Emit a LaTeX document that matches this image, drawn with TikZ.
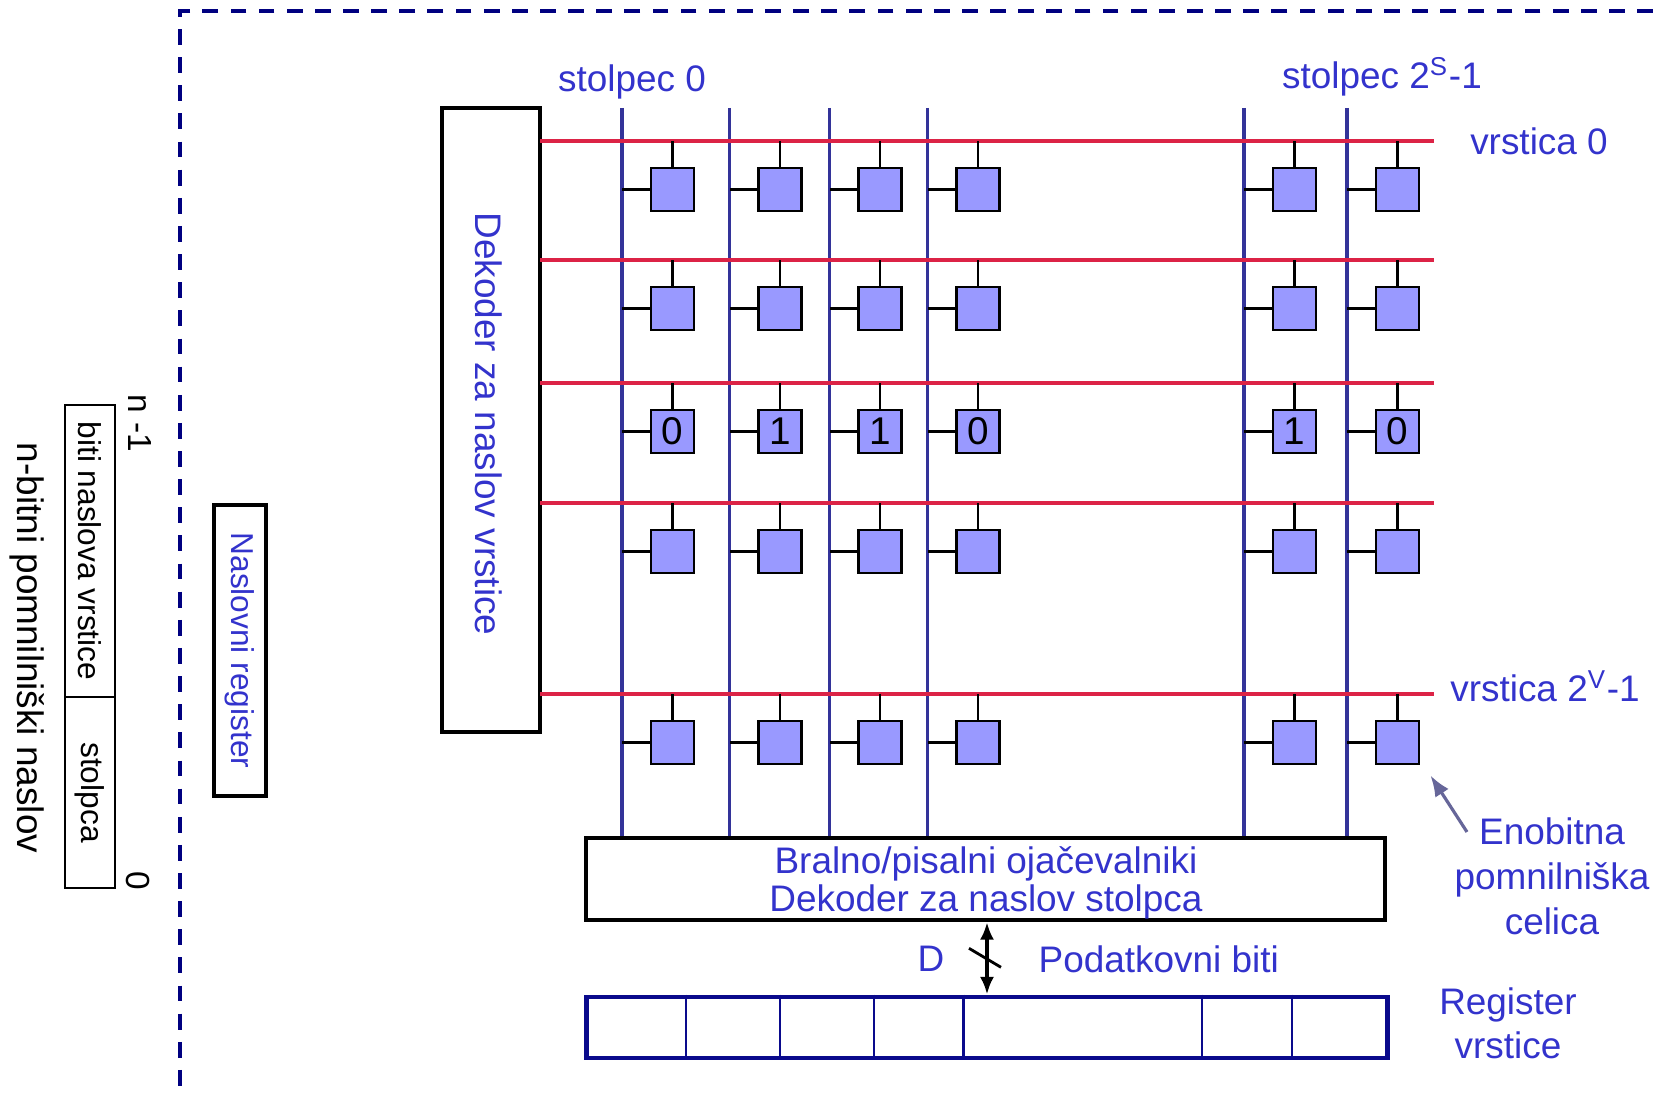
\documentclass[tikz,border=0pt]{standalone}
\usepackage{fontspec}
\setmainfont{Liberation Sans}
\usetikzlibrary{arrows.meta,calc}
\definecolor{txtblue}{RGB}{51,51,204}
\definecolor{cellfill}{RGB}{153,153,255}
\definecolor{colblue}{RGB}{51,51,153}
\definecolor{rowred}{RGB}{220,35,70}
\definecolor{dashnavy}{RGB}{0,0,128}
\definecolor{regnavy}{RGB}{10,10,140}
\definecolor{pointer}{RGB}{102,102,153}
\begin{document}
\begin{tikzpicture}[x=0.01cm,y=-0.01cm,
  font=\fontsize{10.5}{12.6}\selectfont,
  frame/.style={dashnavy,line width=1.2pt,dash pattern=on 4.5pt off 3.5pt},
  thickbox/.style={draw=black,line width=1.2pt,inner sep=0pt},
  cell/.style={draw=black,fill=cellfill,line width=0.8pt,minimum size=0.43cm,inner sep=0pt},
  stub/.style={black,line width=0.7pt},
  colline/.style={colblue,line width=0.9pt},
  rowline/.style={rowred,line width=1pt},
  lbl/.style={text=txtblue},
  small/.style={font=\fontsize{9}{10.5}\selectfont},
  regbox/.style={draw=regnavy,line width=1.4pt,inner sep=0pt},
  regdiv/.style={regnavy,line width=0.8pt},
  dbl/.style={black,line width=1pt,{Latex[length=5pt,width=4pt]}-{Latex[length=5pt,width=4pt]}},
  slash/.style={black,line width=0.8pt},
  pointerarrow/.style={pointer,line width=0.9pt,-{Latex[length=6pt,width=4.5pt]}}
]
\useasboundingbox (0,0) rectangle (1653,1098);

% dashed frame
\coordinate (frtr) at (1653,11);
\coordinate (frtl) at (180,11);
\coordinate (frbl) at (180,1098);
\draw[frame] (frtr) -- (frtl) -- (frbl);

% row decoder
\node[thickbox,minimum width=0.98cm,minimum height=6.24cm] (dec) at (491,420) {};
\node[lbl,rotate=-90] (dectext) at (489,424) {Dekoder za naslov vrstice};

% column decoder / amplifiers
\node[thickbox,minimum width=7.99cm,minimum height=0.82cm] (bb) at (985.5,879) {};
\node[lbl,align=center,font=\fontsize{10.5}{10.6}\selectfont] (bbtext) at (986,883)
      {Bralno/pisalni ojačevalniki\\Dekoder za naslov stolpca};

% column lines
\foreach \x [count=\j] in {622,729.5,829.7,927.7,1244,1347} {
  \coordinate (k\j) at (\x,108);
  \draw[colline] (k\j) -- (k\j |- bb.north);
}
% row lines
\foreach \y [count=\i] in {141,260,383,503,694} {
  \coordinate (rl\i) at (540,\y);
  \coordinate (rr\i) at (1434,\y);
  \draw[rowline] (rl\i) -- (rr\i);
}
% cells
\foreach \x [count=\j] in {622,729.5,829.7,927.7,1244,1347} {
  \foreach \y [count=\i] in {141,260,383,503,694} {
    \node[cell] (c\i-\j) at (\x+50.5,\y+48.5) {};
    \draw[stub] (c\i-\j.north) -- (c\i-\j.north |- rl\i);
    \draw[stub] (c\i-\j.west) -- (c\i-\j.west -| k\j);
  }
}
\foreach \b [count=\j] in {0,1,1,0,1,0}
  \node[font=\fontsize{11}{13}\selectfont] (d\j) at (c3-\j) {\b};

% labels
\node[lbl,anchor=base] (s0) at (632,92) {stolpec 0};
\node[lbl,anchor=base] (sN) at (1382,89) {stolpec 2\textsuperscript{S}-1};
\node[lbl,anchor=base] (v0) at (1539,155) {vrstica 0};
\node[lbl,anchor=base] (vN) at (1545,702) {vrstica 2\textsuperscript{V}-1};

\node[lbl,align=center,font=\fontsize{10.5}{12.8}\selectfont] (eno) at (1552,876)
  {Enobitna\\pomnilniška\\celica};
\coordinate (enotail) at (1467,832);
\draw[pointerarrow] (enotail) -- ([shift={(10,10)}]c5-6.south east);

% row register
\node[regbox,minimum width=8.0cm,minimum height=0.61cm] (rv) at (987,1027.5) {};
\foreach \x [count=\k] in {686,780,874,963.6,1202,1292} {
  \coordinate (dv\k) at (\x,0);
  \draw[regdiv] (rv.north -| dv\k) -- (rv.south -| dv\k);
}
\node[lbl,align=center,font=\fontsize{10.5}{12.5}\selectfont] (regtxt) at (1508,1023)
  {Register\\vrstice};

% data bits arrow
\draw[dbl] (bb.south -| rv.north) -- (rv.north);
\coordinate (am) at ($(bb.south -| rv.north)!0.5!(rv.north)$);
\draw[slash] ([shift={(-18,-10)}]am) -- ([shift={(14,9)}]am);
\node[lbl,anchor=base] (dlab) at (931,972) {D};
\node[lbl,anchor=base west,inner sep=0pt] (pb) at (1038,973) {Podatkovni biti};

% address register
\node[draw=black,line width=1.3pt,rotate=-90,minimum width=2.91cm,minimum height=0.52cm,
      inner sep=0pt,text=txtblue,small] (nr) at (240,650.5) {Naslovni register};

% n-bit address
\node[draw=black,line width=0.6pt,rotate=-90,minimum width=2.92cm,minimum height=0.50cm,
      inner sep=0pt,small] (ab1) at (90,551) {biti naslova vrstice};
\node[draw=black,line width=0.6pt,rotate=-90,minimum width=1.91cm,minimum height=0.50cm,
      inner sep=0pt,small] (ab2) at (90,792.5) {stolpca};
\node[rotate=-90,font=\fontsize{9.5}{11}\selectfont] (nm1) at (140,423) {n -1};
\node[rotate=-90,font=\fontsize{9.5}{11}\selectfont] (z0) at (138,881) {0};
\node[rotate=-90] (nb) at (27,648) {n-bitni pomnilniški naslov};
\end{tikzpicture}
\end{document}
